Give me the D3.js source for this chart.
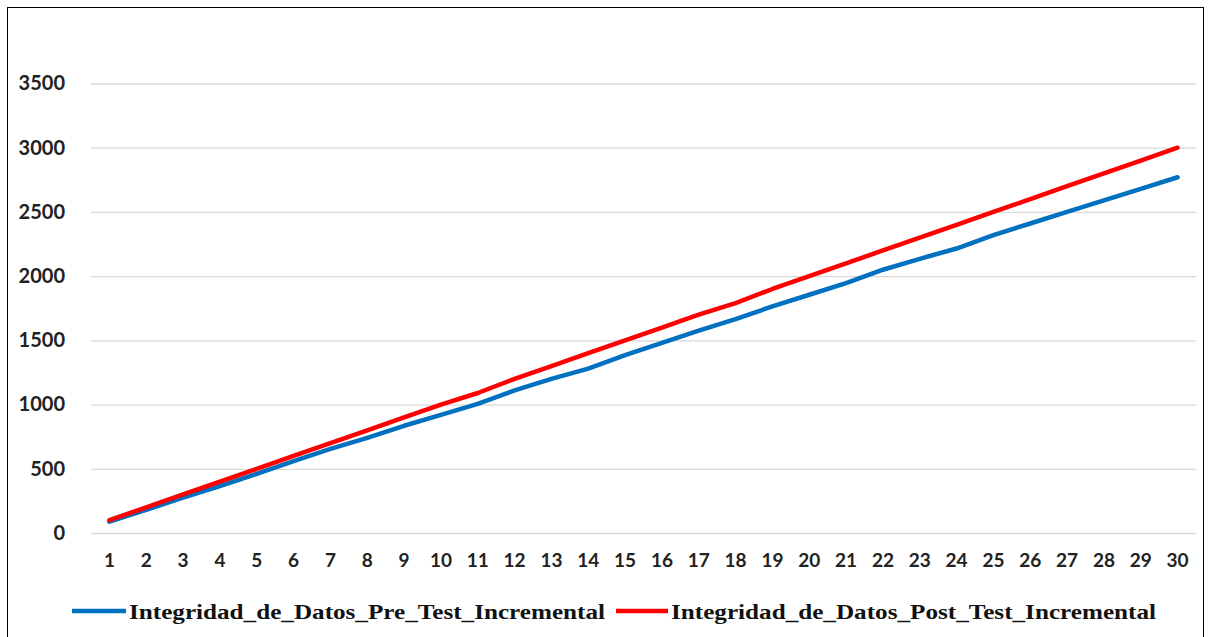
<!DOCTYPE html>
<html>
<head>
<meta charset="utf-8">
<script src="https://cdn.jsdelivr.net/npm/d3@7"></script>
<style>
  html, body { margin: 0; padding: 0; background: #fff; }
  svg { display: block; }
</style>
</head>
<body>
<svg id="chart" width="1211" height="637"></svg>
<script>
const categories = [1,2,3,4,5,6,7,8,9,10,11,12,13,14,15,16,17,18,19,20,21,22,23,24,25,26,27,28,29,30];
const preTest = [88,180,275,365,460,560,655,740,835,920,1005,1110,1200,1280,1385,1480,1575,1665,1765,1855,1945,2050,2135,2215,2320,2410,2500,2590,2680,2770];
const postTest = [100,200,300,400,500,600,700,800,900,1000,1090,1200,1300,1400,1500,1600,1700,1790,1900,2000,2100,2200,2300,2400,2500,2600,2700,2800,2900,3000];
const yTicks = [0,500,1000,1500,2000,2500,3000,3500];
const seriesNames = ["Integridad_de_Datos_Pre_Test_Incremental", "Integridad_de_Datos_Post_Test_Incremental"];
const seriesColors = ["#0070C0", "#FF0000"];

const svg = d3.select("#chart");

// outer frame
svg.append("rect")
  .attr("x", 7.5).attr("y", 7.5)
  .attr("width", 1196).attr("height", 650)
  .attr("fill", "none").attr("stroke", "#000").attr("stroke-width", 1);

const x = d3.scaleBand().domain(categories).range([91, 1196]).padding(0);
const y = d3.scaleLinear().domain([0, 3500]).range([533, 83.5]);

// gridlines + y labels
const yAxis = svg.append("g")
  .attr("transform", "translate(91,0)")
  .call(d3.axisLeft(y).tickValues(yTicks).tickFormat(d3.format("d")).tickSize(-(1196 - 91)).tickPadding(26));
yAxis.select(".domain").remove();
yAxis.selectAll(".tick line").attr("stroke", "#d9d9d9").attr("stroke-width", 1.3);
yAxis.selectAll(".tick text")
  .attr("font-family", "Lato, 'Open Sans', sans-serif")
  .attr("font-weight", "bold")
  .attr("font-size", 20)
  .attr("fill", "#222");

// x labels
const xAxis = svg.append("g")
  .attr("transform", "translate(0,533)")
  .call(d3.axisBottom(x).tickSize(0).tickPadding(21));
xAxis.select(".domain").remove();
xAxis.selectAll(".tick text")
  .attr("font-family", "Lato, 'Open Sans', sans-serif")
  .attr("font-weight", "bold")
  .attr("font-size", 19)
  .attr("fill", "#222");

const cx = d => x(d) + x.bandwidth() / 2;
const line = d3.line().x((d, i) => cx(categories[i])).y(d => y(d));

[preTest, postTest].forEach((s, k) => {
  svg.append("path")
    .datum(s)
    .attr("d", line)
    .attr("fill", "none")
    .attr("stroke", seriesColors[k])
    .attr("stroke-width", 4.5)
    .attr("stroke-linejoin", "round")
    .attr("stroke-linecap", "round");
});

// legend
const legendItems = [
  { x1: 72, x2: 126, tx: 129, width: 476 },
  { x1: 616, x2: 668, tx: 671, width: 485 }
];
legendItems.forEach((it, k) => {
  svg.append("line")
    .attr("x1", it.x1).attr("x2", it.x2)
    .attr("y1", 611).attr("y2", 611)
    .attr("stroke", seriesColors[k]).attr("stroke-width", 4.5);
  svg.append("text")
    .attr("x", it.tx).attr("y", 619)
    .attr("font-family", "'Liberation Serif', 'Times New Roman', serif")
    .attr("font-weight", "bold")
    .attr("font-size", 22)
    .attr("fill", "#111")
    .attr("textLength", it.width)
    .attr("lengthAdjust", "spacingAndGlyphs")
    .text(seriesNames[k]);
});
</script>
</body>
</html>
